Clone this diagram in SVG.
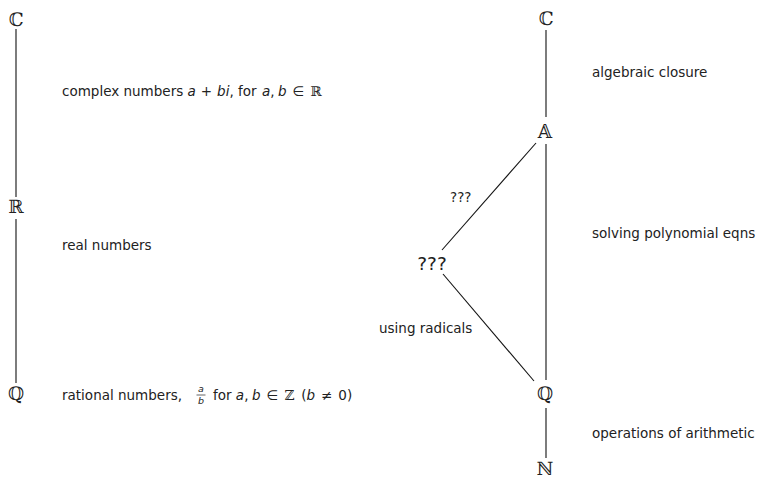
<svg xmlns="http://www.w3.org/2000/svg" width="765" height="478" viewBox="0 0 765 478">
<style>
.bg{fill:#ffffff}
.node{font-family:"DejaVu Serif","DejaVu Sans",serif;font-size:18.5px;fill:#222;text-anchor:middle}
.lbl{font-family:"DejaVu Sans","Noto Sans",sans-serif;font-size:13.5px;fill:#222}
.m{font-style:italic}
.ds{font-family:"DejaVu Serif","DejaVu Sans",serif}
.frac{font-family:"DejaVu Sans","Noto Sans",sans-serif;font-size:9.5px;fill:#222;font-style:italic;text-anchor:middle}
.big{font-family:"DejaVu Sans","Noto Sans",sans-serif;font-size:18.5px;fill:#222;text-anchor:middle}
.edge{stroke:#111;stroke-width:1.1;fill:none}
</style>
<rect class="bg" x="0" y="0" width="765" height="478"/>
<g id="connectors">
<line class="edge" x1="16" y1="29" x2="16" y2="197"/>
<line class="edge" x1="16" y1="219" x2="16" y2="383"/>
<line class="edge" x1="546" y1="30" x2="546" y2="117"/>
<line class="edge" x1="546" y1="144" x2="546" y2="380"/>
<line class="edge" x1="546" y1="408" x2="546" y2="458"/>
<line class="edge" x1="536" y1="143" x2="442" y2="250"/>
<line class="edge" x1="443" y1="274" x2="534" y2="381"/>
</g>
<g id="left-C"><text class="node" x="16" y="26">ℂ</text></g>
<g id="left-R"><text class="node" x="16" y="213">ℝ</text></g>
<g id="left-Q"><text class="node" x="16" y="400">ℚ</text></g>
<g id="right-C"><text class="node" x="546" y="25">ℂ</text></g>
<g id="right-A"><text class="node" x="545" y="138">𝔸</text></g>
<g id="right-unknown"><text class="big" x="432" y="270">???</text></g>
<g id="right-Q"><text class="node" x="545" y="400">ℚ</text></g>
<g id="right-N"><text class="node" x="545" y="475">ℕ</text></g>
<g id="edge-labels">
<text class="lbl" x="450" y="202">???</text>
<text class="lbl" x="379" y="333">using radicals</text>
</g>
<g id="descriptions">
<text class="lbl" x="62" y="96">complex numbers <tspan class="m">a</tspan><tspan dx="5">+</tspan><tspan class="m" dx="5">bi</tspan>, for <tspan class="m" dx="1">a</tspan>,<tspan class="m" dx="3.5">b</tspan><tspan dx="6">∈</tspan><tspan class="ds" dx="6">ℝ</tspan></text>
<text class="lbl" x="62" y="250">real numbers</text>
<text class="lbl" x="62" y="400">rational numbers,</text>
<text class="frac" x="201" y="392">a</text>
<line x1="196.5" y1="395" x2="205.5" y2="395" stroke="#222" stroke-width="0.7"/>
<text class="frac" x="201" y="404">b</text>
<text class="lbl" x="213" y="400">for <tspan class="m">a</tspan>,<tspan class="m" dx="3.5">b</tspan><tspan dx="6">∈</tspan><tspan class="ds" dx="6">ℤ</tspan><tspan dx="7">(</tspan><tspan class="m">b</tspan><tspan dx="6">≠</tspan><tspan dx="6">0)</tspan></text>
<text class="lbl" x="592" y="77">algebraic closure</text>
<text class="lbl" x="592" y="238">solving polynomial eqns</text>
<text class="lbl" x="592" y="438">operations of arithmetic</text>
</g>
</svg>
